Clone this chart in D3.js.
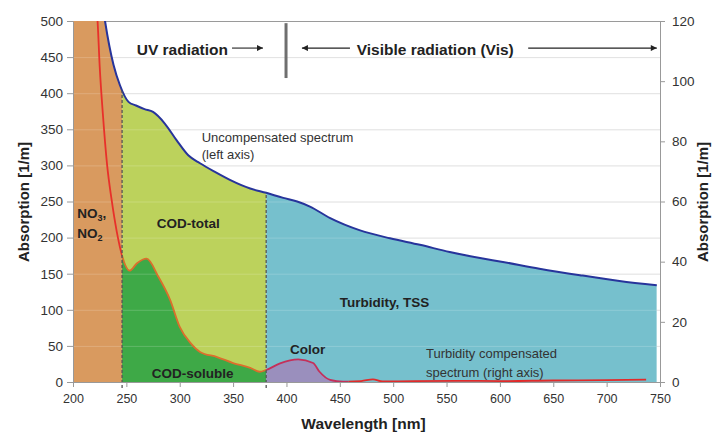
<!DOCTYPE html>
<html>
<head>
<meta charset="utf-8">
<script src="https://cdn.jsdelivr.net/npm/d3@7"></script>
<style>
  body { margin:0; background:#fff; }
  text { font-family: "Liberation Sans", Arial, sans-serif; }
</style>
</head>
<body>
<script>
// CHART DATA

// Uncompensated spectrum (left axis, 1/m)
const uncompWl  = [200, 215, 222, 230, 238, 244, 252, 259, 267, 275, 286, 297, 308, 319, 333, 347, 366, 381, 397, 410, 422, 441, 469, 497, 525, 553, 584, 600, 637, 675, 712, 747];
const uncompAbs = [1000, 700, 590, 500, 439, 411, 388, 383, 378, 374, 358, 335, 314, 303, 291, 280, 268, 262, 255, 250, 243, 227, 210, 199, 190, 180, 171, 167, 157, 148, 140, 134];

// Turbidity compensated spectrum (right axis, 1/m)
const compWl  = [212, 223, 225, 228, 232, 236, 241, 246, 253, 260, 269, 280, 291, 300, 310, 319, 335, 350, 366, 375, 381, 394, 411, 425, 431, 441, 453, 470, 481, 490, 520, 560, 600, 650, 700, 737];
const compAbs = [150, 120, 105, 89, 72, 61, 50, 42, 37, 39.5, 41, 35, 27.3, 18.3, 13, 10, 8.3, 6.3, 4.7, 3.4, 4.0, 6.2, 7.5, 6.3, 3.4, 0.7, 0.1, 0.3, 0.9, 0.2, 0.3, 0.4, 0.3, 0.5, 0.6, 0.8];

// Axis ticks
const xTicks     = [200, 250, 300, 350, 400, 450, 500, 550, 600, 650, 700, 750];
const leftTicks  = [0, 50, 100, 150, 200, 250, 300, 350, 400, 450, 500];
const rightTicks = [0, 20, 40, 60, 80, 100, 120];

// Wavelength limits of the coloured regions
const regionNames  = ['no3', 'cod', 'turb'];
const regionLimits = [200, 246, 381, 747];
const colorLimit   = 458;

// SIZES
const width = 712;
const height = 432;
const margin = {top:21, right:52, bottom:50, left:73};

const fills = {no3:'#d99a5f', cod:'#bcd25c', turb:'#76c0cd', soluble:'#3ea947', color:'#9a8fbd'};

// SVG
const svg = d3.select('body')
  .append('svg')
  .attr('width', width)
  .attr('height', height);

// Scales
const x = d3.scaleLinear().domain([200, 750]).range([margin.left, width - margin.right]);
const yL = d3.scaleLinear().domain([0, 500]).range([height - margin.bottom, margin.top]);
const yR = d3.scaleLinear().domain([0, 120]).range([height - margin.bottom, margin.top]);

const uncomp = uncompWl.map((w, i) => ({wl:w, a:uncompAbs[i]}));
const comp = compWl.map((w, i) => ({wl:w, a:compAbs[i]}));

const uncompArea = d3.area().x(d => x(d.wl)).y0(yL(0)).y1(d => yL(d.a)).curve(d3.curveMonotoneX);
const compArea = d3.area().x(d => x(d.wl)).y0(yR(0)).y1(d => yR(d.a)).curve(d3.curveMonotoneX);
const uncompLine = d3.line().x(d => x(d.wl)).y(d => yL(d.a)).curve(d3.curveMonotoneX);
const compLine = d3.line().x(d => x(d.wl)).y(d => yR(d.a)).curve(d3.curveMonotoneX);

// clip paths
const defs = svg.append('defs');
defs.append('clipPath').attr('id', 'plot')
  .append('rect')
  .attr('x', x(200)).attr('y', yL(500))
  .attr('width', x(750) - x(200)).attr('height', yL(0) - yL(500));

function rangeClip(id, a, b){
  defs.append('clipPath').attr('id', id)
    .append('rect')
    .attr('x', x(a)).attr('y', 0)
    .attr('width', x(b) - x(a)).attr('height', height);
}
regionNames.forEach((n, i) => rangeClip('clip-' + n, regionLimits[i], regionLimits[i + 1]));
rangeClip('clip-color', regionLimits[2], colorLimit);
rangeClip('clip-tail', colorLimit, 750);

// dashed separators are cut at the uncompensated curve
const sepClip = defs.append('clipPath').attr('id', 'sep');
sepClip.append('path').attr('d', uncompArea(uncomp));
sepClip.append('rect').attr('x', 0).attr('y', yL(0) - 1).attr('width', width).attr('height', 8);

// Grid lines
svg.append('g')
  .selectAll('line')
  .data(leftTicks.slice(1))
  .join('line')
  .attr('x1', x(200)).attr('x2', x(750))
  .attr('y1', d => yL(d) + 0.5).attr('y2', d => yL(d) + 0.5)
  .attr('stroke', (d) => d === 500 ? '#9a9a9a' : '#dcdcdc')
  .attr('stroke-width', 1);

const plot = svg.append('g').attr('clip-path', 'url(#plot)');

// areas under uncompensated spectrum
regionNames.forEach(n => {
  plot.append('g').attr('clip-path', 'url(#clip-' + n + ')')
    .append('path')
    .attr('d', uncompArea(uncomp))
    .attr('fill', fills[n]);
});

// areas under compensated spectrum
[['cod', fills.soluble], ['color', fills.color]].forEach(([n, c]) => {
  plot.append('g').attr('clip-path', 'url(#clip-' + n + ')')
    .append('path')
    .attr('d', compArea(comp))
    .attr('fill', c);
});

// faint grid over the colours
plot.append('g')
  .selectAll('line')
  .data(leftTicks.slice(1, -1))
  .join('line')
  .attr('x1', x(200)).attr('x2', x(750))
  .attr('y1', d => yL(d) + 0.5).attr('y2', d => yL(d) + 0.5)
  .attr('stroke', '#ffffff').attr('stroke-opacity', 0.18);

// dashed separators
svg.append('g').attr('clip-path', 'url(#sep)')
  .selectAll('line')
  .data(regionLimits.slice(1, 3))
  .join('line')
  .attr('x1', d => x(d)).attr('x2', d => x(d))
  .attr('y1', yL(0) + 6).attr('y2', yL(500))
  .attr('stroke', '#555').attr('stroke-width', 1.3)
  .attr('stroke-dasharray', '3,2');

// compensated spectrum line, coloured by region
[['clip-no3', '#e8302a'], ['clip-cod', '#dc6e2c'], ['clip-color', '#c4305a'], ['clip-tail', '#e22a2a']].forEach(([id, c]) => {
  plot.append('g').attr('clip-path', 'url(#' + id + ')')
    .append('path')
    .attr('d', compLine(comp))
    .attr('fill', 'none')
    .attr('stroke', c)
    .attr('stroke-width', 1.8);
});

// uncompensated spectrum line
plot.append('path')
  .attr('d', uncompLine(uncomp))
  .attr('fill', 'none')
  .attr('stroke', '#27349b')
  .attr('stroke-width', 2);

// Axes
function styleAxis(g, size){
  g.selectAll('.domain').attr('stroke', '#999');
  g.selectAll('.tick line').attr('stroke', '#999');
  g.selectAll('.tick text').attr('fill', '#333').style('font-size', size + 'px')
    .style('font-family', '"Liberation Sans", Arial, sans-serif');
}
svg.append('g')
  .attr('transform', 'translate(' + x(200) + ',0)')
  .call(d3.axisLeft(yL).tickValues(leftTicks).tickSize(6).tickSizeOuter(0).tickPadding(4))
  .call(g => styleAxis(g, 13.5));

svg.append('g')
  .attr('transform', 'translate(' + x(750) + ',0)')
  .call(d3.axisRight(yR).tickValues(rightTicks).tickSize(5).tickSizeOuter(0).tickPadding(7))
  .call(g => styleAxis(g, 13.5));

svg.append('g')
  .attr('transform', 'translate(0,' + yL(0) + ')')
  .call(d3.axisBottom(x).tickValues(xTicks).tickSize(5).tickSizeOuter(0).tickPadding(7))
  .call(g => styleAxis(g, 12.5));

// Axis titles
svg.append('text')
  .attr('transform', 'translate(23,' + (yL(250) + 0.5) + ') rotate(-90)')
  .attr('text-anchor', 'middle').attr('dominant-baseline', 'central')
  .style('font-weight', 'bold').style('font-size', '15px').attr('fill', '#222')
  .text('Absorption [1/m]');
svg.append('text')
  .attr('transform', 'translate(702,' + (yL(250) + 0.5) + ') rotate(-90)')
  .attr('text-anchor', 'middle').attr('dominant-baseline', 'central')
  .style('font-weight', 'bold').style('font-size', '15px').attr('fill', '#222')
  .text('Absorption [1/m]');
svg.append('text')
  .attr('x', x(475) - 3).attr('y', 428.5)
  .attr('text-anchor', 'middle')
  .style('font-weight', 'bold').style('font-size', '15.5px').attr('fill', '#222')
  .text('Wavelength [nm]');

// Radiation ranges
defs.append('marker')
  .attr('id', 'head')
  .attr('viewBox', '0 0 10 10')
  .attr('refX', 10).attr('refY', 5)
  .attr('markerWidth', 7).attr('markerHeight', 6)
  .attr('markerUnits', 'userSpaceOnUse')
  .attr('orient', 'auto')
  .append('path').attr('d', 'M0,0L10,5L0,10Z').attr('fill', '#222');

const arrowY = yL(462.5);
[[349, 378], [459.5, 414.5], [626.5, 747]].forEach(([a, b]) => {
  svg.append('line')
    .attr('x1', x(a)).attr('x2', x(b))
    .attr('y1', arrowY).attr('y2', arrowY)
    .attr('stroke', '#222').attr('stroke-width', 1.1)
    .attr('marker-end', 'url(#head)');
});
svg.append('line')
  .attr('x1', x(399.6)).attr('x2', x(399.6))
  .attr('y1', yL(497)).attr('y2', yL(421))
  .attr('stroke', '#6f6f6f').attr('stroke-width', 3);

function label(wl, val, txt, opts){
  return svg.append('text')
    .attr('x', x(wl)).attr('y', yL(val))
    .attr('text-anchor', opts.anchor || 'start')
    .style('font-weight', opts.bold ? 'bold' : 'normal')
    .style('font-size', opts.size + 'px')
    .attr('fill', opts.fill || '#222')
    .text(txt);
}
label(259.7, 453, 'UV radiation', {bold:true, size:15.5});
label(465.8, 453, 'Visible radiation (Vis)', {bold:true, size:15.5});
label(320.6, 332, 'Uncompensated spectrum', {size:13, fill:'#333'});
label(320.6, 309, '(left axis)', {size:13, fill:'#333'});
label(308, 213, 'COD-total', {bold:true, size:13.5, anchor:'middle'});
label(450, 104.5, 'Turbidity, TSS', {bold:true, size:13.5});
label(403.3, 38.8, 'Color', {bold:true, size:13.5});
label(273.7, 6.2, 'COD-soluble', {bold:true, size:13.5});
label(530.7, 33, 'Turbidity compensated', {size:13, fill:'#333'});
label(530.7, 7.6, 'spectrum (right axis)', {size:13, fill:'#333'});

// NO3, NO2 with subscripts
const no3 = label(204, 227, 'NO', {bold:true, size:13.5});
no3.append('tspan').attr('dy', 3).style('font-size', '9px').text('3');
no3.append('tspan').attr('dy', -3).text(',');
const no2 = label(204, 199, 'NO', {bold:true, size:13.5});
no2.append('tspan').attr('dy', 3).style('font-size', '9px').text('2');
</script>
</body>
</html>
